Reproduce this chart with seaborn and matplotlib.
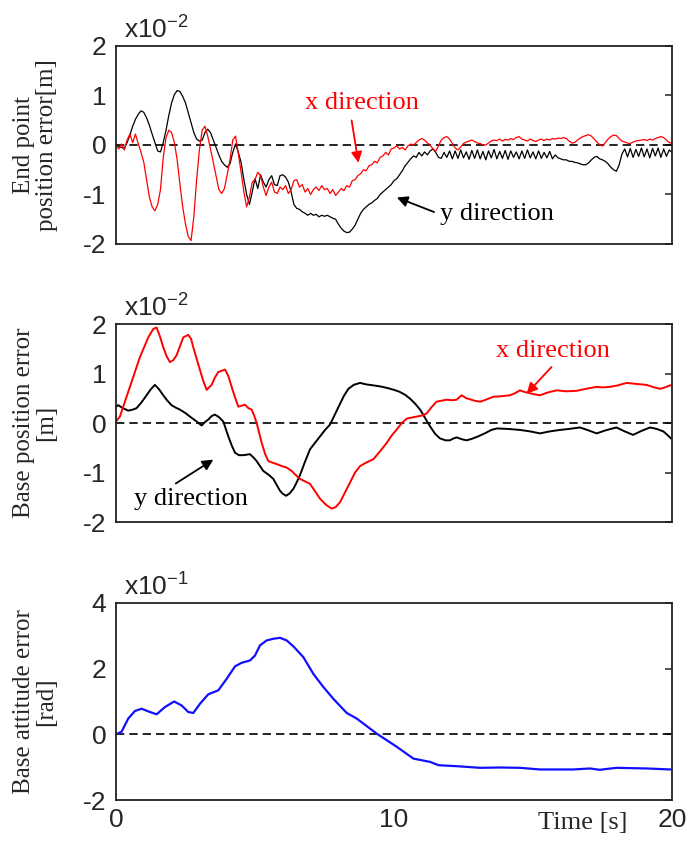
import numpy as np
import pandas as pd
import matplotlib
matplotlib.use("Agg")
import matplotlib.pyplot as plt
import seaborn as sns

# ---------------- data ----------------
# top panel: sampled every 0.1 s from 0 to 20 s (units x1e-2 m)
t_top = np.round(np.arange(201) * 0.1, 1)

end_x = [
    0.00, -0.08, 0.02, -0.10, 0.10, 0.22, 0.05, 0.22, 0.03, -0.15,
    -0.35, -0.70, -1.05, -1.25, -1.33, -1.20, -0.90, -0.25, 0.15, 0.30,
    0.25, 0.05, -0.30, -0.80, -1.25, -1.60, -1.85, -1.93, -1.45, -0.70,
    -0.10, 0.30, 0.38, 0.18, -0.08, -0.35, -0.62, -0.90, -0.98, -0.88,
    -0.60, -0.30, 0.10, 0.18, -0.17, -0.55, -0.95, -1.25, -1.05, -0.75,
    -0.70, -0.55, -0.62, -0.85, -1.02, -0.85, -0.75, -0.95, -0.98, -0.85,
    -0.90, -0.82, -0.98, -0.90, -0.72, -0.70, -0.85, -0.80, -0.95, -0.88,
    -1.00, -0.90, -0.85, -0.92, -0.82, -0.90, -0.88, -0.98, -0.90, -1.02,
    -0.95, -0.88, -0.92, -0.82, -0.85, -0.72, -0.70, -0.62, -0.58, -0.50,
    -0.52, -0.42, -0.40, -0.33, -0.36, -0.25, -0.22, -0.15, -0.20, -0.08,
    -0.06, -0.02, -0.08, -0.05, -0.10, -0.02, 0.02, 0.00, 0.05, 0.10,
    0.13, 0.10, 0.04, 0.00, -0.08, -0.13, -0.02, 0.10, 0.15, 0.17,
    0.12, 0.03, -0.06, -0.10, -0.04, 0.03, 0.06, 0.08, 0.10, 0.07,
    0.04, 0.03, 0.00, 0.00, 0.04, 0.08, 0.10, 0.09, 0.12, 0.08,
    0.11, 0.10, 0.13, 0.11, 0.15, 0.17, 0.12, 0.10, 0.08, 0.12,
    0.09, 0.07, 0.10, 0.12, 0.09, 0.12, 0.10, 0.13, 0.12, 0.14,
    0.13, 0.15, 0.13, 0.08, 0.04, 0.05, 0.10, 0.14, 0.17, 0.19,
    0.21, 0.18, 0.12, 0.06, 0.00, -0.02, 0.05, 0.12, 0.17, 0.20,
    0.19, 0.13, 0.08, 0.06, 0.04, 0.03, 0.06, 0.08, 0.09, 0.10,
    0.11, 0.09, 0.12, 0.10, 0.13, 0.15, 0.17, 0.15, 0.10, 0.05,
    0.03,
]

end_y = [
    0.00, -0.03, -0.05, -0.07, 0.05, 0.20, 0.38, 0.52, 0.62, 0.69,
    0.66, 0.55, 0.40, 0.22, 0.05, -0.12, -0.14, 0.05, 0.30, 0.60,
    0.85, 1.02, 1.10, 1.08, 0.98, 0.85, 0.65, 0.45, 0.25, 0.12,
    0.08, 0.10, 0.25, 0.32, 0.25, 0.10, -0.05, -0.20, -0.33, -0.40,
    -0.45, -0.38, -0.15, 0.02, -0.15, -0.35, -0.70, -1.00, -1.20, -0.95,
    -0.68, -0.88, -0.60, -0.75, -0.85, -0.70, -0.62, -0.80, -0.82, -0.62,
    -0.60, -0.65, -0.75, -0.95, -1.20, -1.28, -1.30, -1.35, -1.38, -1.42,
    -1.38, -1.42, -1.40, -1.45, -1.42, -1.44, -1.42, -1.45, -1.48, -1.50,
    -1.60, -1.68, -1.74, -1.77, -1.76, -1.70, -1.62, -1.50, -1.38, -1.30,
    -1.25, -1.20, -1.17, -1.12, -1.08, -1.00, -0.95, -0.90, -0.85, -0.80,
    -0.72, -0.68, -0.60, -0.52, -0.42, -0.35, -0.28, -0.22, -0.25, -0.15,
    -0.22, -0.14, -0.20, -0.12, -0.08, -0.15, -0.25, -0.27, -0.15, -0.25,
    -0.12, -0.28, -0.12, -0.27, -0.10, -0.26, -0.14, -0.29, -0.11, -0.27,
    -0.10, -0.28, -0.13, -0.30, -0.12, -0.26, -0.09, -0.28, -0.13, -0.27,
    -0.11, -0.29, -0.12, -0.25, -0.14, -0.28, -0.12, -0.27, -0.10, -0.26,
    -0.14, -0.28, -0.12, -0.27, -0.15, -0.26, -0.13, -0.28, -0.20, -0.26,
    -0.28, -0.30, -0.30, -0.33, -0.33, -0.35, -0.36, -0.38, -0.40, -0.40,
    -0.36, -0.30, -0.25, -0.23, -0.28, -0.30, -0.33, -0.38, -0.45, -0.50,
    -0.53, -0.40, -0.18, -0.08, -0.24, -0.07, -0.25, -0.09, -0.23, -0.06,
    -0.24, -0.08, -0.26, -0.07, -0.22, -0.06, -0.25, -0.08, -0.23, -0.10,
    -0.15,
]

# middle panel (units x1e-2 m)
base_x_t = [0, 0.14, 0.5, 0.86, 1.16, 1.34, 1.46, 1.58, 1.7, 1.82, 1.94, 2.06, 2.18, 2.3,
            2.42, 2.6, 2.7, 2.78, 2.9, 3.02, 3.14, 3.26, 3.44, 3.56, 3.68, 3.92, 4.04,
            4.16, 4.28, 4.4, 4.52, 4.64, 4.76, 4.88, 4.97, 5.06, 5.15, 5.24, 5.36, 5.48,
            5.62, 5.78, 5.96, 6.14, 6.32, 6.5, 6.62, 6.8, 6.98, 7.16, 7.34, 7.55, 7.76,
            7.9, 8.06, 8.24, 8.42, 8.6, 8.78, 9.0, 9.26, 9.5, 9.74, 9.92, 10.1, 10.28,
            10.46, 10.64, 10.82, 11.0, 11.17, 11.35, 11.53, 11.7, 11.9, 12.1, 12.25,
            12.43, 12.6, 12.73, 12.9, 13.1, 13.3, 13.57, 13.85, 14.17, 14.35, 14.53,
            14.68, 14.83, 15.05, 15.25, 15.55, 15.85, 16.2, 16.57, 16.9, 17.29, 17.5,
            17.77, 18.05, 18.37, 18.7, 19.09, 19.3, 19.57, 19.75, 19.93, 20.0]
base_x_v = [0.03, 0.13, 0.73, 1.33, 1.73, 1.9, 1.93, 1.75, 1.53, 1.35, 1.23, 1.27, 1.37, 1.55,
            1.73, 1.78, 1.7, 1.53, 1.3, 1.07, 0.85, 0.67, 0.77, 0.92, 1.03, 1.08, 0.95,
            0.73, 0.52, 0.33, 0.35, 0.37, 0.3, 0.27, 0.15, 0.0, -0.2, -0.4, -0.62, -0.77,
            -0.8, -0.83, -0.87, -0.9, -0.97, -1.07, -1.13, -1.18, -1.23, -1.38, -1.53,
            -1.65, -1.73, -1.7, -1.6, -1.4, -1.2, -1.0, -0.87, -0.8, -0.73, -0.57, -0.4,
            -0.25, -0.13, 0.0, 0.09, 0.11, 0.13, 0.15, 0.19, 0.32, 0.43, 0.45, 0.47,
            0.46, 0.47, 0.56, 0.5, 0.48, 0.45, 0.43, 0.47, 0.53, 0.54, 0.56, 0.6, 0.66,
            0.63, 0.61, 0.58, 0.56, 0.62, 0.66, 0.64, 0.65, 0.69, 0.73, 0.72, 0.73,
            0.76, 0.81, 0.79, 0.77, 0.73, 0.69, 0.72, 0.76, 0.76]

base_y_t = [0, 0.08, 0.25, 0.44, 0.6, 0.74, 0.92, 1.1, 1.25, 1.4, 1.55, 1.7, 1.85, 2.0, 2.15,
            2.3, 2.5, 2.66, 2.9, 3.08, 3.2, 3.32, 3.44, 3.56, 3.7, 3.86, 4.04, 4.16, 4.28,
            4.42, 4.58, 4.82, 4.95, 5.06, 5.18, 5.3, 5.5, 5.66, 5.78, 5.9, 6.0, 6.12, 6.25,
            6.38, 6.5, 6.62, 6.8, 6.98, 7.16, 7.34, 7.52, 7.7, 7.88, 8.06, 8.2, 8.36, 8.55,
            8.78, 9.0, 9.26, 9.5, 9.74, 10.0, 10.2, 10.4, 10.58, 10.76, 10.94, 11.12, 11.3,
            11.48, 11.65, 11.85, 12.01, 12.15, 12.25, 12.45, 12.61, 12.8, 13.03, 13.3,
            13.5, 13.7, 14.1, 14.53, 14.9, 15.25, 15.6, 15.97, 16.3, 16.69, 17.0, 17.29,
            17.6, 18.0, 18.3, 18.6, 18.9, 19.21, 19.45, 19.69, 19.85, 20.0]
base_y_v = [0.33, 0.36, 0.3, 0.25, 0.27, 0.3, 0.42, 0.56, 0.68, 0.77, 0.68, 0.56, 0.45, 0.36,
            0.31, 0.27, 0.2, 0.13, 0.03, -0.05, 0.02, 0.07, 0.14, 0.17, 0.12, 0.03, -0.27,
            -0.45, -0.6, -0.65, -0.65, -0.63, -0.7, -0.77, -0.87, -0.97, -1.05, -1.13,
            -1.25, -1.37, -1.43, -1.47, -1.42, -1.33, -1.2, -1.05, -0.78, -0.53, -0.4,
            -0.27, -0.14, -0.03, 0.18, 0.39, 0.55, 0.69, 0.77, 0.81, 0.78, 0.76, 0.74,
            0.71, 0.67, 0.63, 0.57, 0.49, 0.39, 0.27, 0.1, -0.07, -0.22, -0.31, -0.35,
            -0.35, -0.31, -0.29, -0.33, -0.35, -0.32, -0.27, -0.2, -0.14, -0.11, -0.12,
            -0.14, -0.17, -0.21, -0.17, -0.14, -0.12, -0.09, -0.15, -0.21, -0.15, -0.09,
            -0.17, -0.24, -0.16, -0.09, -0.12, -0.17, -0.25, -0.33]

# bottom panel (units x1e-1 rad)
att_t = [0, 0.2, 0.44, 0.68, 0.92, 1.22, 1.46, 1.76, 2.09, 2.36, 2.6, 2.78, 3.02, 3.32, 3.68,
         3.98, 4.28, 4.52, 4.82, 5.0, 5.18, 5.42, 5.66, 5.9, 6.14, 6.38, 6.74, 7.1, 7.46,
         7.82, 8.3, 8.66, 9.02, 9.38, 9.74, 10.1, 10.7, 11.3, 11.6, 12.25, 13.1, 13.8,
         14.53, 15.25, 16.45, 17.05, 17.4, 18.0, 19.1, 19.93, 20.0]
att_v = [0, 0.08, 0.48, 0.71, 0.78, 0.68, 0.61, 0.83, 1.0, 0.88, 0.68, 0.65, 0.93, 1.22,
         1.34, 1.69, 2.07, 2.18, 2.25, 2.4, 2.71, 2.86, 2.91, 2.94, 2.86, 2.68, 2.35, 1.84,
         1.44, 1.08, 0.65, 0.48, 0.25, 0.02, -0.18, -0.38, -0.74, -0.84, -0.94, -0.97,
         -1.02, -1.01, -1.02, -1.07, -1.07, -1.04, -1.08, -1.02, -1.04, -1.07, -1.07]

assert len(end_x) == len(t_top) == len(end_y)
assert len(base_x_t) == len(base_x_v)
assert len(base_y_t) == len(base_y_v)
assert len(att_t) == len(att_v)

x_ticks = [0, 5, 10, 15, 20]
x_ticklabels = ["0", "", "10", "", "20"]

# ---------------- style ----------------
sns.set_theme(style="white")
plt.rcParams["font.family"] = ["Liberation Sans", "DejaVu Sans"]
plt.rcParams["mathtext.fontset"] = "custom"
plt.rcParams["mathtext.rm"] = "Liberation Sans"
plt.rcParams["mathtext.it"] = "Liberation Sans"
SERIF = ["Liberation Serif", "DejaVu Serif"]
RED = "#ff0000"
BLUE = "#1010ff"

fig = plt.figure(figsize=(6.9, 8.41), dpi=100)
W, H = 690, 841
left = 116 / W
width = (672 - 116) / W


def make_ax(top_px, bot_px):
    return fig.add_axes([left, 1 - bot_px / H, width, (bot_px - top_px) / H])


ax1 = make_ax(46, 244)
ax2 = make_ax(324, 522)
ax3 = make_ax(603, 800)


def style(ax, ylim, yticks, ylabel, mult, show_xlabels):
    ax.axhline(0, color="black", lw=1.2, ls=(0, (5, 3)), zorder=1)
    ax.set_xlim(0, 20)
    ax.set_ylim(*ylim)
    ax.set_xticks(x_ticks)
    ax.set_xticklabels(x_ticklabels if show_xlabels else [""] * 5)
    ax.set_yticks(yticks)
    ax.set_yticklabels([str(v) for v in yticks])
    ax.tick_params(axis="both", direction="in", length=5, width=1.1, color="#222222",
                   labelsize=19, top=False, right=True)
    ax.tick_params(axis="y", pad=7)
    ax.tick_params(axis="x", pad=6)
    for s in ax.spines.values():
        s.set_visible(True)
        s.set_linewidth(1.3)
        s.set_color("#222222")
    ax.set_xlabel("")
    ax.set_ylabel(ylabel, family=SERIF, fontsize=18, linespacing=1.05)
    ax.yaxis.set_label_coords(-0.105, 0.5)
    ax.text(0.015, 1.012, mult, transform=ax.transAxes, fontsize=19,
            ha="left", va="bottom")
    if ax.get_legend() is not None:
        ax.get_legend().remove()


# top panel
df_top = pd.DataFrame({"t": t_top, "x": end_x, "y": end_y})
sns.lineplot(data=df_top, x="t", y="y", ax=ax1, color="black", lw=0.9, estimator=None)
sns.lineplot(data=df_top, x="t", y="x", ax=ax1, color=RED, lw=0.9, estimator=None)
style(ax1, (-2, 2), [2, 1, 0, -1, -2], "End point\nposition error[m]",
      r"x10$^{-2}$", False)

# middle panel
df_bx = pd.DataFrame({"t": base_x_t, "v": base_x_v})
df_by = pd.DataFrame({"t": base_y_t, "v": base_y_v})
sns.lineplot(data=df_by, x="t", y="v", ax=ax2, color="black", lw=1.4, estimator=None)
sns.lineplot(data=df_bx, x="t", y="v", ax=ax2, color=RED, lw=1.4, estimator=None)
style(ax2, (-2, 2), [2, 1, 0, -1, -2], "Base position error\n[m]",
      r"x10$^{-2}$", False)

# bottom panel
df_att = pd.DataFrame({"t": att_t, "v": att_v})
sns.lineplot(data=df_att, x="t", y="v", ax=ax3, color=BLUE, lw=1.6, estimator=None)
style(ax3, (-2, 4), [4, 2, 0, -2], "Base attitude error\n[rad]",
      r"x10$^{-1}$", True)

# annotations
arrow_kw = dict(arrowstyle="-|>", mutation_scale=16, lw=1.3, shrinkA=2, shrinkB=0)
ax1.annotate("x direction", xy=(8.72, -0.36), xytext=(8.85, 0.84), color=RED,
             fontsize=19, family=SERIF, ha="center", va="center",
             arrowprops=dict(color=RED, relpos=(0.4, 0.0), **arrow_kw))
ax1.annotate("y direction", xy=(10.1, -1.06), xytext=(13.7, -1.4), color="black",
             fontsize=19, family=SERIF, ha="center", va="center",
             arrowprops=dict(color="black", relpos=(0.0, 0.5), **arrow_kw))
ax2.annotate("x direction", xy=(14.77, 0.59), xytext=(15.72, 1.46), color=RED,
             fontsize=19, family=SERIF, ha="center", va="center",
             arrowprops=dict(color=RED, relpos=(0.53, 0.0), **arrow_kw))
ax2.annotate("y direction", xy=(3.5, -0.74), xytext=(2.7, -1.54), color="black",
             fontsize=19, family=SERIF, ha="center", va="center",
             arrowprops=dict(color="black", relpos=(0.3, 1.0), **arrow_kw))

fig.text(583 / W, 1 - 823 / H, "Time [s]", family=SERIF, fontsize=19,
         ha="center", va="center")

fig.savefig("out.png", dpi=100)
